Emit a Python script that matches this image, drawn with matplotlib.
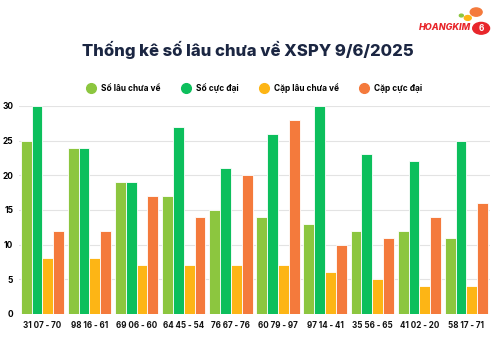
import numpy as np
import matplotlib.pyplot as plt
from matplotlib.lines import Line2D
from matplotlib.patches import Circle

# Data
labels = ["31 07 - 70", "98 16 - 61", "69 06 - 60", "64 45 - 54", "76 67 - 76",
          "60 79 - 97", "97 14 - 41", "35 56 - 65", "41 02 - 20", "58 17 - 71"]
so_lau = [25, 24, 19, 17, 15, 14, 13, 12, 12, 11]
so_cuc_dai = [30, 24, 19, 27, 21, 26, 30, 23, 22, 25]
cap_lau = [8, 8, 7, 7, 7, 7, 6, 5, 4, 4]
cap_cuc_dai = [12, 12, 17, 14, 20, 28, 10, 11, 14, 16]

series = [so_lau, so_cuc_dai, cap_lau, cap_cuc_dai]
names = ["Số lâu chưa về", "Số cực đại", "Cặp lâu chưa về", "Cặp cực đại"]
colors = ["#8cc63f", "#0cbf5c", "#fdb515", "#f47a3c"]

plt.rcParams['font.family'] = ['Inter', 'DejaVu Sans']

fig = plt.figure(figsize=(4.95, 3.45), dpi=100)
ax = fig.add_axes([0.038, 0.09, 0.952, 0.603])

x = np.arange(len(labels))
w = 0.23
for i, (vals, c) in enumerate(zip(series, colors)):
    ax.bar(x + (i - 1.5) * w, vals, width=w, color=c, edgecolor="white",
           linewidth=0.6, zorder=3)

ax.set_xlim(-0.5, len(labels) - 0.5)
ax.set_ylim(0, 30)
ax.set_yticks(range(0, 31, 5))
ax.set_xticks(x)
ax.set_xticklabels(labels, fontsize=5.8, fontweight="bold", color="#111111")
ax.tick_params(axis="y", labelsize=6, length=0, pad=4)
ax.tick_params(axis="x", length=0, pad=5)
for lbl in ax.get_yticklabels():
    lbl.set_fontweight("bold")
ax.grid(axis="y", color="#e3e3e3", linewidth=0.8, zorder=0)
for s in ax.spines.values():
    s.set_visible(False)

# Legend
handles = [Line2D([0], [0], marker="o", linestyle="", markersize=7,
                  markerfacecolor=c, markeredgecolor=c) for c in colors]
fig.legend(handles, names, loc="center", bbox_to_anchor=(0.51, 0.745), ncol=4,
           frameon=False, prop={"size": 6, "weight": "bold"},
           handletextpad=0.2, columnspacing=2.0)

# Title
fig.text(0.5, 0.855, "Thống kê số lâu chưa về XSPY 9/6/2025", ha="center",
         va="center", fontsize=12, fontweight="heavy", color="#1b2642")

# Logo approximation
fig.text(0.952, 0.92, "HOANGKIM", ha="right", va="center", fontsize=6.5,
         fontweight="heavy", style="italic", color="#e8262b")
fig.patches.append(Circle((0.972, 0.918), 0.017, transform=fig.transFigure,
                          color="#e8262b"))
fig.text(0.972, 0.918, "6", ha="center", va="center", fontsize=6,
         fontweight="bold", color="white")
fig.patches.append(Circle((0.962, 0.965), 0.012, transform=fig.transFigure,
                          color="#f47a3c"))
fig.patches.append(Circle((0.945, 0.948), 0.007, transform=fig.transFigure,
                          color="#fdb515"))
fig.patches.append(Circle((0.932, 0.955), 0.004, transform=fig.transFigure,
                          color="#8cc63f"))

fig.savefig("out.png", dpi=100, facecolor="white")
